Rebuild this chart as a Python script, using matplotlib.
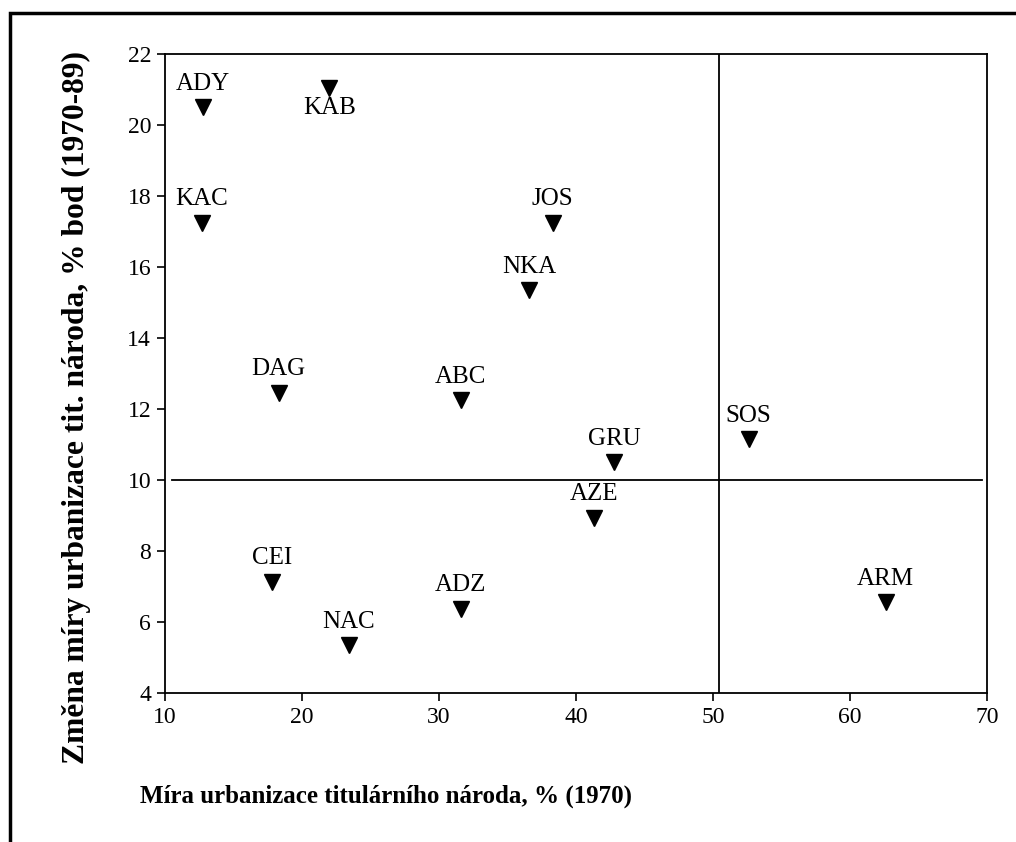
import matplotlib
matplotlib.use("Agg")
import matplotlib.pyplot as plt
from matplotlib.patches import Rectangle

# regions and their values
codes = ["ADY", "KAB", "KAC", "JOS", "NKA", "DAG", "ABC", "GRU", "SOS",
         "AZE", "CEI", "ADZ", "NAC", "ARM"]
urban_1970 = [12.8, 22.0, 12.7, 38.3, 36.6, 18.3, 31.6, 42.8, 52.6,
              41.3, 17.8, 31.6, 23.4, 62.6]
change_70_89 = [20.5, 21.05, 17.25, 17.25, 15.35, 12.45, 12.25, 10.5, 11.15,
                8.93, 7.13, 6.37, 5.35, 6.56]
below = ["KAB"]  # label drawn under the marker

x_ref = 50.4
y_ref = 10.0

plt.rcParams['font.family'] = ['Liberation Serif', 'DejaVu Serif']

fig = plt.figure(figsize=(10.16, 8.42), dpi=100)
ax = fig.add_axes([0.1624, 0.177, 0.8091, 0.7589])

ax.plot(urban_1970, change_70_89, 'v', color='black', markersize=11, clip_on=False)

for code, x, y in zip(codes, urban_1970, change_70_89):
    if code in below:
        ax.annotate(code, (x, y), xytext=(0, -7), textcoords='offset points',
                    ha='center', va='top', fontsize=18)
    else:
        ax.annotate(code, (x, y), xytext=(0, 9), textcoords='offset points',
                    ha='center', va='bottom', fontsize=18)

ax.axvline(x_ref, color='black', linewidth=1.3)
ax.plot([10.5, 69.6], [y_ref, y_ref], color='black', linewidth=1.3)

ax.set_xlim(10, 70)
ax.set_ylim(4, 22)
ax.set_xticks(range(10, 71, 10))
ax.set_yticks(range(4, 23, 2))
ax.tick_params(direction='out', length=6, width=1.2, labelsize=17, pad=4)
for s in ax.spines.values():
    s.set_linewidth(1.3)

fig.text(386 / 1016, 1 - 796 / 842, "Míra urbanizace titulárního národa, % (1970)",
         ha='center', va='center', fontsize=18, fontweight='bold')
fig.text(76 / 1016, 1 - 407 / 842, "Změna míry urbanizace tit. národa, % bod (1970-89)",
         ha='center', va='center', rotation=90, fontsize=22.7, fontweight='bold')

# frame around the figure (right and bottom edges fall outside the picture)
fig.patches.append(Rectangle((10 / 1016, -0.2), 1.2, 1.2 - 13 / 842,
                             transform=fig.transFigure, fill=False,
                             edgecolor='black', linewidth=2.5))

fig.savefig("out.png", dpi=100)
